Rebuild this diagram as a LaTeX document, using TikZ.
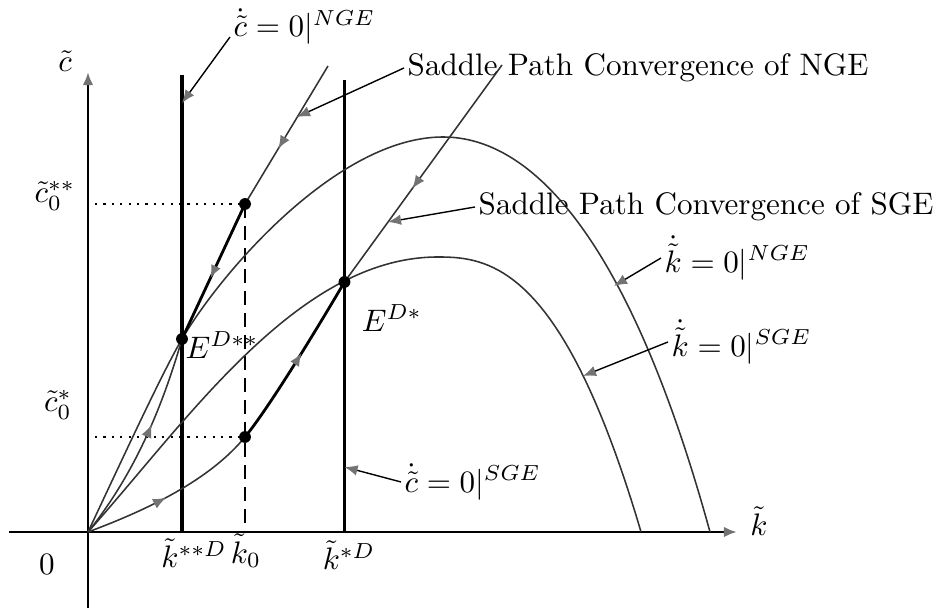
\documentclass[tikz,border=0pt]{standalone}
\usetikzlibrary{arrows.meta,decorations.markings}
\begin{document}
\begin{tikzpicture}[x=1.13mm,y=1.13mm,
  >={Latex[length=4.2pt,width=3.4pt,color=black!55]},
  axisline/.style={line width=0.9pt,->},
  locusline/.style={line width=1pt},
  curveline/.style={draw=black!80,line width=0.5pt},
  jumpline/.style={line width=0.9pt},
  pointer/.style={line width=0.45pt,->},
  flow/.style={postaction={decorate},decoration={markings,mark=at position #1 with {\arrow{>}}}},
  lbl/.style={inner sep=1pt}]
  \useasboundingbox (-8.8,-7.7) rectangle (85.0,53.2);
  \coordinate (O) at (0,0);
  \coordinate (Ess) at (9.4,19.3);
  \coordinate (Es) at (25.65,25.0);
  \coordinate (Css) at (15.7,32.8);
  \coordinate (Cs) at (15.7,9.5);
  \coordinate (Nend) at (24.0,46.6);
  \coordinate (Send) at (41.4,46.7);
  \coordinate (Ntop) at (35.5,39.5);
  \coordinate (Stop) at (35,27.5);
  \draw[axisline] (-7.9,0) -- (64.9,0);
  \draw[axisline] (0,-7.6) -- (0,46.0);
  \node (kaxis) at (67.1,1.1) {$\tilde k$};
  \node (caxis) at (-2.3,47.1) {$\tilde c$};
  \node (zero) at (-4.1,-3.2) {$0$};
  \draw[locusline] (Ess |- O) -- (9.4,45.7);
  \draw[locusline] (Es |- O) -- (25.65,45.2);
  \draw[dash pattern=on 4.5pt off 2.5pt,line width=0.8pt] (Css) -- (Css |- O);
  \draw[dotted,line width=0.7pt] (0.7,32.8) -- (Css);
  \draw[dotted,line width=0.7pt] (0.7,9.5) -- (Cs);
  \draw[curveline] (O) .. controls (3.3,7.0) and (7.4,15.9) .. (Ess)
    .. controls (13.4,26.1) and (25,39.5) .. (Ntop)
    .. controls (45,39.5) and (54.5,28) .. (62.2,0);
  \draw[curveline] (O) .. controls (10,11.2) and (21,27.5) .. (Stop)
    -- plot[domain=0:20.3,samples=41] ({35+\x},{27.5-0.0148*\x*\x*sqrt(\x)});
  \draw[curveline,flow=0.58] (O) .. controls (4,5) and (7,11) .. (Ess);
  \draw[jumpline,flow=0.55] (Css) -- (Ess);
  \draw[curveline,flow=0.6] (Nend) -- (Css);
  \draw[curveline,flow=0.46] (O) .. controls (7,2.6) and (12.5,5.6) .. (Cs);
  \draw[jumpline,flow=0.55] (Cs) .. controls (18.2,12.55) and (23.15,20.75) .. (Es);
  \draw[curveline,flow=0.57] (Send) -- (Es);
  \fill (Ess) circle (1.9pt);
  \fill (Es) circle (1.9pt);
  \fill (Css) circle (1.9pt);
  \fill (Cs) circle (1.9pt);
  \node (Elss) at (13.4,18.7) {$E^{D**}$};
  \node (Els) at (30.4,21.4) {$E^{D*}$};
  \node (c0ss) at (-3.3,33.6) {$\tilde c_0^{**}$};
  \node (c0s) at (-3.0,12.7) {$\tilde c_0^{*}$};
  \node (kss) at (10.6,-2.1) {$\tilde k^{**D}$};
  \node (k0) at (15.8,-1.9) {$\tilde k_0$};
  \node (ks) at (26.1,-2.3) {$\tilde k^{*D}$};
  \coordinate (cNGEtip) at (9.4,42.9);
  \coordinate (sNGEtip) at (20.9,41.5);
  \coordinate (sSGEtip) at (30.0,31.0);
  \coordinate (kNGEtip) at (52.6,24.6);
  \coordinate (kSGEtip) at (49.5,15.6);
  \coordinate (cSGEtip) at (25.65,6.5);
  \node[lbl,anchor=base west] (cNGE) at (14.2,49.5) {$\dot{\tilde c}=0|^{NGE}$};
  \node[lbl,anchor=west] (sNGE) at (31.6,46.4) {Saddle Path Convergence of NGE};
  \node[lbl,anchor=west] (sSGE) at (38.7,32.5) {Saddle Path Convergence of SGE};
  \node[lbl,anchor=west] (kNGE) at (57.3,27.4) {$\dot{\tilde k}=0|^{NGE}$};
  \node[lbl,anchor=west] (kSGE) at (58.0,19.0) {$\dot{\tilde k}=0|^{SGE}$};
  \node[lbl,anchor=west] (cSGE) at (31.3,5.0) {$\dot{\tilde c}=0|^{SGE}$};
  \draw[pointer] (cNGE.base west) -- (cNGEtip);
  \draw[pointer] (sNGE.west) -- (sNGEtip);
  \draw[pointer] (sSGE.west) -- (sSGEtip);
  \draw[pointer] (kNGE.west) -- (kNGEtip);
  \draw[pointer] (kSGE.west) -- (kSGEtip);
  \draw[pointer] (cSGE.west) -- (cSGEtip);
\end{tikzpicture}
\end{document}
